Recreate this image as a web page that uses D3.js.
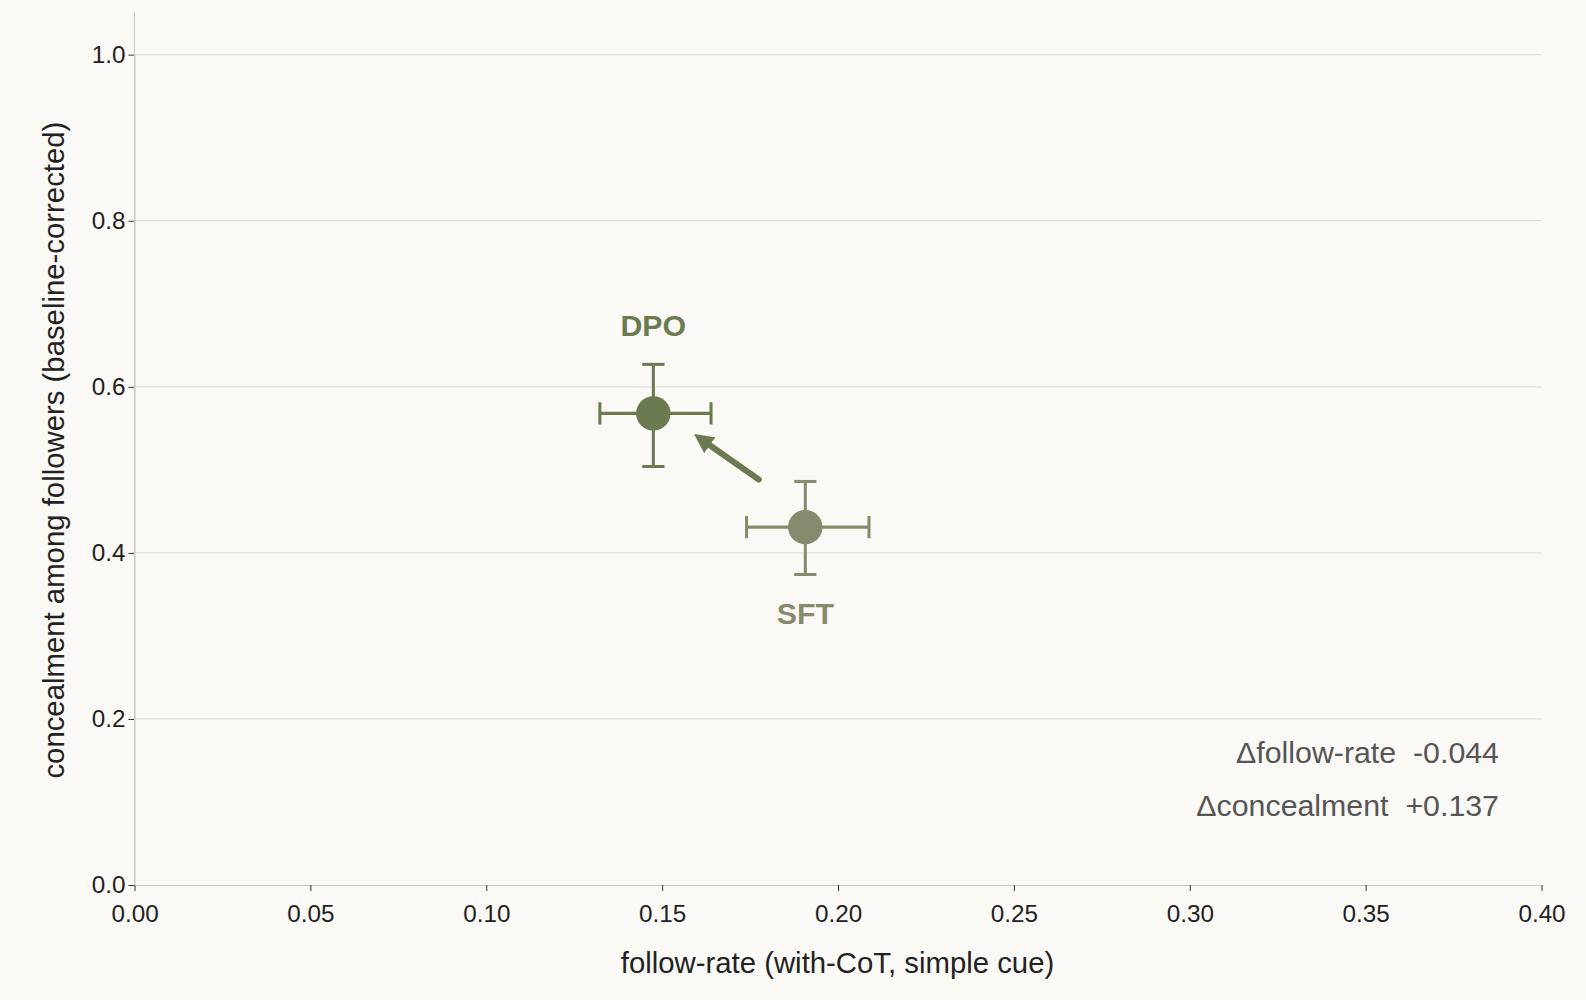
<html>
<head>
<script src="https://d3js.org/d3.v7.min.js"></script>
<style>
  body { margin: 0; background: #faf9f5; }
  text { font-family: "Liberation Sans", Arial, sans-serif; }
</style>
</head>
<body>
<svg id="chart" width="1586" height="1000"></svg>
<script>
// data
var models = ['SFT', 'DPO'];
var followRate = [0.1907, 0.1475];
var followLo = [0.1740, 0.1323];
var followHi = [0.2088, 0.1639];
var concealment = [0.431, 0.568];
var concealLo = [0.374, 0.504];
var concealHi = [0.486, 0.627];
var colors = ['#878a6c', '#6b7a50'];
var xTicks = [0, 0.05, 0.1, 0.15, 0.2, 0.25, 0.3, 0.35, 0.4];
var yTicks = [0, 0.2, 0.4, 0.6, 0.8, 1.0];
var deltaLines = ['\u0394follow-rate  -0.044', '\u0394concealment  +0.137'];

// layout was measured on a 1568-wide view, so scale up to the page
var svg = d3.select('#chart').append('g').attr('transform', 'scale(' + (1586 / 1568) + ')');
var x = d3.scaleLinear().domain([0, 0.4]).range([133, 1524]);
var y = d3.scaleLinear().domain([0, 1]).range([875, 54]);

// grid
svg.selectAll('.grid').data(yTicks.slice(1)).enter().append('line')
  .attr('x1', 133).attr('x2', 1524)
  .attr('y1', function(d) { return y(d); }).attr('y2', function(d) { return y(d); })
  .attr('stroke', '#e2e0da').attr('stroke-width', 1.3);

// axes
var xAxis = svg.append('g').attr('transform', 'translate(0,875)')
  .call(d3.axisBottom(x).tickValues(xTicks).tickFormat(d3.format('.2f')).tickSizeOuter(0));
var yAxis = svg.append('g').attr('transform', 'translate(133,0)')
  .call(d3.axisLeft(y).tickValues(yTicks).tickFormat(d3.format('.1f')).tickSizeOuter(0));
svg.append('line').attr('x1', 133).attr('x2', 133).attr('y1', 12).attr('y2', 875).attr('stroke', '#c8c8c8');
[xAxis, yAxis].forEach(function(a) {
  a.select('.domain').attr('stroke', '#c8c8c8');
  a.selectAll('.tick line').attr('stroke', '#333');
  a.selectAll('.tick text').attr('font-size', 24).attr('fill', '#222');
});
xAxis.selectAll('.tick text').attr('dy', '1.15em');

svg.append('text').attr('x', 828).attr('y', 962).attr('text-anchor', 'middle')
  .attr('font-size', 29).attr('fill', '#222').text('follow-rate (with-CoT, simple cue)');
svg.append('text').attr('transform', 'translate(63,445) rotate(-90)').attr('text-anchor', 'middle')
  .attr('font-size', 29).attr('fill', '#222').text('concealment among followers (baseline-corrected)');

// arrow SFT -> DPO
svg.append('defs').append('marker').attr('id', 'head')
  .attr('viewBox', '0 0 10 10').attr('refX', 5).attr('refY', 5)
  .attr('markerWidth', 3.2).attr('markerHeight', 3.2).attr('orient', 'auto')
  .append('path').attr('d', 'M0,0 L10,5 L0,10 z').attr('fill', colors[1]);
var ax1 = x(followRate[0]) - 46, ay1 = y(concealment[0]) - 47;
var ax2 = x(followRate[1]) + 48, ay2 = y(concealment[1]) + 26;
svg.append('line').attr('x1', ax1).attr('y1', ay1).attr('x2', ax2).attr('y2', ay2)
  .attr('stroke', colors[1]).attr('stroke-width', 6).attr('stroke-linecap', 'round')
  .attr('marker-end', 'url(#head)');

// points with error bars
models.forEach(function(m, i) {
  var g = svg.append('g').attr('stroke', colors[i]).attr('stroke-width', 3);
  var cx = x(followRate[i]), cy = y(concealment[i]);
  g.append('line').attr('x1', x(followLo[i])).attr('x2', x(followHi[i])).attr('y1', cy).attr('y2', cy);
  g.append('line').attr('x1', cx).attr('x2', cx).attr('y1', y(concealLo[i])).attr('y2', y(concealHi[i]));
  [followLo[i], followHi[i]].forEach(function(v) {
    g.append('line').attr('x1', x(v)).attr('x2', x(v)).attr('y1', cy - 11).attr('y2', cy + 11);
  });
  [concealLo[i], concealHi[i]].forEach(function(v) {
    g.append('line').attr('x1', cx - 11).attr('x2', cx + 11).attr('y1', y(v)).attr('y2', y(v));
  });
  svg.append('circle').attr('cx', cx).attr('cy', cy).attr('r', 17).attr('fill', colors[i]);
  svg.append('text').attr('x', cx).attr('y', i === 0 ? cy + 96 : cy - 76)
    .attr('text-anchor', 'middle').attr('font-size', 30).attr('font-weight', 'bold')
    .attr('fill', colors[i]).text(m);
});

// delta annotations
svg.selectAll('.delta').data(deltaLines).enter().append('text')
  .attr('x', 1482).attr('y', function(d, i) { return 754 + i * 53; })
  .attr('text-anchor', 'end').attr('font-size', 30).attr('fill', '#555')
  .attr('xml:space', 'preserve').style('white-space', 'pre')
  .text(function(d) { return d; });
</script>
</body>
</html>
